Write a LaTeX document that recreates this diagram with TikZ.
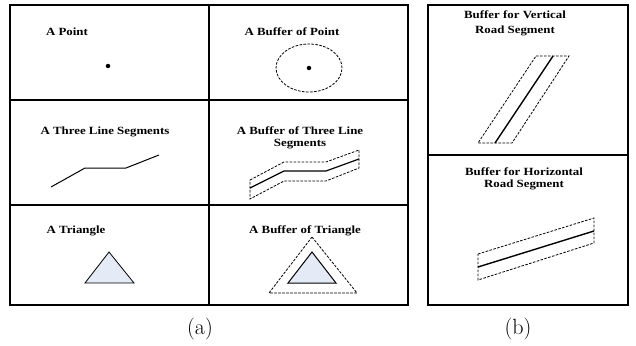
\documentclass[tikz,border=0pt]{standalone}
\usepackage{fontspec}
\newfontfamily\titlefont[FakeStretch=1.17]{Liberation Serif}
\usepackage{tikz}
\definecolor{trifill}{HTML}{E4EBF6}

\begin{document}
\begin{tikzpicture}[
  x=1pt, y=-1pt,
  frame/.style={line width=1.6pt},
  title/.style={font=\titlefont\bfseries\fontsize{11}{12}\selectfont, align=center, inner sep=0pt},
  buffer/.style={dash pattern=on 2.6pt off 1.4pt, line width=0.8pt},
  seg/.style={line width=1pt},
  road/.style={line width=1.4pt},
  dot/.style={circle, fill, inner sep=0pt, minimum size=4.5pt},
  caption/.style={font=\fontsize{22}{24}\selectfont, inner sep=0pt}
]
  \useasboundingbox (0,0) rectangle (636,345);

  % Riquadri
  \draw[frame] (10,5) rectangle (408,305);
  \draw[frame] (10,100) -- (408,100) (10,205) -- (408,205) (209,5) -- (209,305);
  \draw[frame] (428,5) rectangle (628,305);
  \draw[frame] (428,155) -- (628,155);

  % Punto e buffer del punto
  \node[title] (tPoint) at (67,32) {A Point};
  \node[dot] (pt) at (108,66) {};
  \node[title] (tBufPoint) at (292,32) {A Buffer of Point};
  \node[dot] (bpt) at (309,68) {};
  \draw[buffer] (bpt) ellipse [x radius=33pt, y radius=24pt];

  % Tre segmenti e buffer
  \node[title] (tLines) at (105,132) {A Three Line Segments};
  \draw[seg] (51,187) -- (85,168) -- (126,168) -- (159,155);
  \node[title] (tBufLines) at (300,138) {A Buffer of Three Line\\Segments};
  \draw[buffer] (250,180) -- (284,162) -- (326,162) -- (359,150) -- (359,168)
    -- (326,181) -- (284,181) -- (250,199) -- cycle;
  \draw[seg, line width=1.2pt] (250,188) -- (284,171) -- (326,171) -- (359,159);

  % Triangolo e buffer
  \node[title] (tTri) at (76,231) {A Triangle};
  \draw[fill=trifill, line width=0.8pt] (109,252) -- (134,283) -- (85,283) -- cycle;
  \node[title] (tBufTri) at (305,231) {A Buffer of Triangle};
  \draw[buffer] (312,237) -- (357,293) -- (269,293) -- cycle;
  \draw[fill=trifill, line width=1pt] (312,252) -- (336,283) -- (288,283) -- cycle;

  % Strade
  \node[title] (tVert) at (515,23.5) {Buffer for Vertical\\[3pt]Road Segment};
  \draw[buffer] (536,56) -- (569,56) -- (512,143) -- (478,143) -- cycle;
  \draw[road] (553,56) -- (495,143);
  \node[title] (tHor) at (524,179) {Buffer for Horizontal\\Road Segment};
  \draw[buffer] (478,254) -- (594,218) -- (594,243) -- (478,280) -- cycle;
  \draw[road] (478,267) -- (594,231);

  % Didascalie
  \node[caption] (capA) at (200,329) {(a)};
  \node[caption] (capB) at (518,329) {(b)};
\end{tikzpicture}
\end{document}
